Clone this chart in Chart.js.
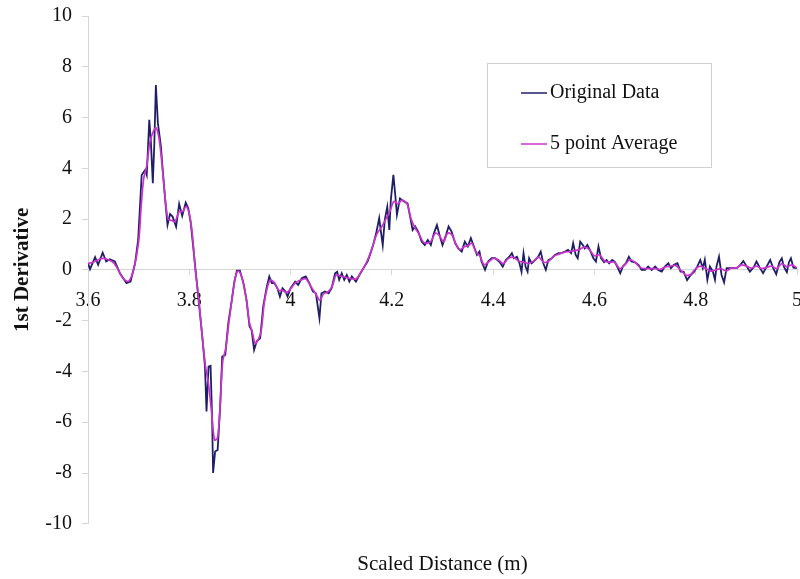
<!DOCTYPE html>
<html>
<head>
<meta charset="utf-8">
<script src="https://cdn.jsdelivr.net/npm/chart.js@4.4.0/dist/chart.umd.min.js"></script>
<style>
  html, body { margin: 0; padding: 0; background: #fff; }
  #wrap { width: 800px; height: 579px; }
</style>
</head>
<body>
<div id="wrap"><canvas id="deriv-chart"></canvas></div>
<script>
// measured profile: distance (m) and first derivative
const distOriginal = [
  3.600, 3.604, 3.614, 3.620, 3.629, 3.636, 3.643, 3.653, 3.663, 3.676,
  3.684, 3.693, 3.699, 3.706, 3.713, 3.716, 3.721, 3.724, 3.728, 3.731,
  3.734, 3.738, 3.744, 3.747, 3.753, 3.757, 3.762, 3.767, 3.774, 3.780,
  3.786, 3.793, 3.798, 3.803, 3.809, 3.817, 3.825, 3.831, 3.834, 3.838,
  3.842, 3.845, 3.847, 3.851, 3.856, 3.861, 3.865, 3.871, 3.877, 3.884,
  3.889, 3.894, 3.900, 3.907, 3.913, 3.919, 3.923, 3.928, 3.933, 3.940,
  3.946, 3.953, 3.958, 3.963, 3.968, 3.974, 3.979, 3.984, 3.990, 3.994,
  4.000, 4.009, 4.015, 4.022, 4.030, 4.037, 4.044, 4.050, 4.057, 4.061,
  4.068, 4.075, 4.081, 4.088, 4.092, 4.096, 4.101, 4.106, 4.111, 4.116,
  4.121, 4.129, 4.136, 4.144, 4.152, 4.158, 4.164, 4.169, 4.175, 4.178,
  4.182, 4.186, 4.191, 4.195, 4.198, 4.203, 4.207, 4.210, 4.216, 4.224,
  4.231, 4.236, 4.241, 4.246, 4.252, 4.259, 4.265, 4.271, 4.277, 4.283,
  4.289, 4.295, 4.300, 4.307, 4.312, 4.318, 4.325, 4.331, 4.338, 4.344,
  4.350, 4.356, 4.361, 4.368, 4.373, 4.377, 4.384, 4.390, 4.397, 4.404,
  4.412, 4.419, 4.425, 4.432, 4.437, 4.441, 4.447, 4.452, 4.456, 4.460,
  4.464, 4.468, 4.471, 4.476, 4.483, 4.489, 4.494, 4.499, 4.504, 4.509,
  4.516, 4.522, 4.529, 4.535, 4.542, 4.548, 4.554, 4.558, 4.563, 4.567,
  4.572, 4.577, 4.581, 4.586, 4.591, 4.598, 4.603, 4.608, 4.613, 4.619,
  4.624, 4.629, 4.635, 4.640, 4.645, 4.651, 4.656, 4.662, 4.668, 4.673,
  4.680, 4.687, 4.693, 4.700, 4.706, 4.713, 4.720, 4.726, 4.733, 4.739,
  4.746, 4.751, 4.757, 4.764, 4.770, 4.776, 4.783, 4.790, 4.797, 4.803,
  4.809, 4.814, 4.818, 4.823, 4.828, 4.834, 4.838, 4.841, 4.846, 4.851,
  4.856, 4.861, 4.871, 4.881, 4.887, 4.894, 4.901, 4.907, 4.914, 4.920,
  4.927, 4.933, 4.940, 4.947, 4.953, 4.959, 4.965, 4.970, 4.974, 4.980,
  4.984, 4.988, 4.993, 5.000
];
const derivOriginal = [
  0.26, 0.03, 0.50, 0.20, 0.68, 0.33, 0.42, 0.33, -0.13, -0.52,
  -0.46, 0.26, 1.18, 3.74, 3.94, 3.74, 5.91, 5.12, 3.41, 4.99,
  7.28, 5.78, 4.86, 4.07, 2.63, 1.77, 2.20, 2.10, 1.70, 2.60,
  2.13, 2.65, 2.43, 1.84, 0.66, -0.92, -2.49, -3.81, -5.58, -3.81,
  -3.78, -5.77, -8.00, -7.15, -7.09, -5.38, -3.41, -3.35, -2.10, -1.18,
  -0.46, -0.03, -0.03, -0.52, -1.18, -2.23, -2.36, -3.15, -2.82, -2.69,
  -1.44, -0.66, -0.26, -0.52, -0.52, -0.72, -1.05, -0.72, -0.85, -1.05,
  -0.72, -0.46, -0.59, -0.33, -0.26, -0.52, -0.85, -0.92, -1.90, -0.92,
  -0.85, -0.92, -0.72, -0.13, -0.07, -0.39, -0.13, -0.39, -0.20, -0.46,
  -0.26, -0.46, -0.20, 0.07, 0.33, 0.66, 1.05, 1.44, 2.04, 1.57,
  0.98, 1.97, 2.49, 1.57, 2.76, 3.74, 2.89, 2.17, 2.82, 2.69,
  2.62, 2.10, 1.57, 1.71, 1.51, 1.11, 0.98, 1.18, 0.98, 1.44,
  1.77, 1.31, 0.98, 1.38, 1.71, 1.51, 1.05, 0.85, 0.72, 1.11,
  0.92, 1.25, 0.98, 0.59, 0.72, 0.33, 0.00, 0.33, 0.46, 0.46,
  0.33, 0.13, 0.39, 0.52, 0.66, 0.46, 0.52, 0.26, -0.07, 0.66,
  0.13, -0.07, 0.46, 0.26, 0.39, 0.52, 0.72, 0.26, 0.00, 0.39,
  0.46, 0.59, 0.66, 0.66, 0.72, 0.79, 0.66, 1.05, 0.59, 0.46,
  1.11, 0.98, 0.85, 0.98, 0.79, 0.46, 0.33, 0.92, 0.46, 0.30,
  0.39, 0.26, 0.39, 0.33, 0.13, -0.13, 0.13, 0.26, 0.52, 0.33,
  0.30, 0.20, 0.00, 0.00, 0.13, 0.00, 0.13, 0.00, -0.07, 0.13,
  0.26, 0.07, 0.20, 0.26, -0.07, -0.07, -0.40, -0.20, -0.07, 0.13,
  0.39, 0.07, 0.40, -0.39, 0.13, -0.07, -0.39, 0.13, 0.52, -0.20,
  -0.49, 0.07, 0.07, 0.07, 0.17, 0.35, 0.13, -0.07, 0.09, 0.33,
  0.07, -0.13, 0.13, 0.39, 0.07, -0.17, 0.30, 0.46, 0.13, -0.09,
  0.30, 0.46, 0.09, 0.07
];

// smoothed curve (5 point running average)
const distAverage = [
  3.600, 3.610, 3.620, 3.630, 3.640, 3.650, 3.660, 3.670, 3.680, 3.690,
  3.700, 3.705, 3.710, 3.716, 3.722, 3.728, 3.734, 3.740, 3.746, 3.752,
  3.758, 3.765, 3.772, 3.780, 3.787, 3.794, 3.800, 3.806, 3.812, 3.818,
  3.825, 3.832, 3.838, 3.844, 3.850, 3.856, 3.861, 3.866, 3.872, 3.878,
  3.884, 3.890, 3.895, 3.900, 3.907, 3.913, 3.919, 3.925, 3.930, 3.936,
  3.942, 3.948, 3.954, 3.960, 3.968, 3.976, 3.984, 3.992, 4.000, 4.010,
  4.020, 4.030, 4.040, 4.050, 4.058, 4.065, 4.075, 4.083, 4.090, 4.100,
  4.110, 4.120, 4.130, 4.140, 4.150, 4.160, 4.170, 4.180, 4.188, 4.196,
  4.204, 4.212, 4.220, 4.230, 4.238, 4.246, 4.254, 4.262, 4.270, 4.278,
  4.286, 4.294, 4.302, 4.310, 4.318, 4.326, 4.334, 4.342, 4.350, 4.358,
  4.366, 4.374, 4.382, 4.390, 4.400, 4.410, 4.420, 4.430, 4.440, 4.450,
  4.460, 4.470, 4.480, 4.490, 4.500, 4.510, 4.520, 4.530, 4.540, 4.550,
  4.560, 4.570, 4.580, 4.590, 4.600, 4.610, 4.620, 4.630, 4.640, 4.650,
  4.660, 4.670, 4.680, 4.690, 4.700, 4.710, 4.720, 4.730, 4.740, 4.750,
  4.760, 4.770, 4.780, 4.790, 4.800, 4.810, 4.820, 4.830, 4.840, 4.850,
  4.860, 4.870, 4.880, 4.890, 4.900, 4.910, 4.920, 4.930, 4.940, 4.950,
  4.960, 4.970, 4.980, 4.990, 5.000
];
const derivAverage = [
  0.25, 0.30, 0.40, 0.45, 0.40, 0.30, 0.00, -0.35, -0.45, 0.00,
  1.10, 2.50, 3.60, 4.10, 5.00, 5.40, 5.60, 5.20, 4.20, 2.90,
  2.00, 1.95, 1.90, 2.30, 2.30, 2.50, 2.20, 1.40, 0.00, -1.00,
  -2.50, -3.80, -4.50, -5.60, -6.70, -6.60, -5.30, -3.60, -3.10, -2.10,
  -1.20, -0.40, -0.05, -0.10, -0.55, -1.20, -2.10, -2.50, -2.90, -2.75,
  -2.40, -1.30, -0.70, -0.40, -0.50, -0.80, -0.80, -0.90, -0.75, -0.50,
  -0.40, -0.35, -0.65, -0.95, -1.20, -0.95, -0.85, -0.60, -0.20, -0.25,
  -0.30, -0.35, -0.35, -0.05, 0.30, 0.80, 1.40, 1.70, 2.00, 2.30,
  2.70, 2.60, 2.75, 2.60, 2.00, 1.65, 1.40, 1.10, 1.05, 1.15,
  1.45, 1.35, 1.10, 1.45, 1.40, 1.05, 0.80, 0.90, 0.95, 1.05,
  0.70, 0.55, 0.20, 0.30, 0.45, 0.40, 0.25, 0.45, 0.50, 0.35,
  0.30, 0.25, 0.35, 0.50, 0.30, 0.35, 0.55, 0.62, 0.70, 0.72,
  0.75, 0.80, 0.90, 0.80, 0.55, 0.60, 0.35, 0.30, 0.30, 0.05,
  0.20, 0.40, 0.30, 0.10, 0.05, 0.05, 0.05, 0.02, 0.12, 0.15,
  0.18, 0.00, -0.20, -0.18, 0.05, 0.15, 0.05, -0.05, 0.00, 0.05,
  -0.05, 0.07, 0.07, 0.20, 0.15, 0.07, 0.15, 0.05, 0.10, 0.15,
  0.05, 0.25, 0.12, 0.20, 0.07
];

const seriesNames = ['Original Data', '5 point Average'];
const seriesColors = ['#1e1f66', '#cc33cc'];

const serif = "'Liberation Serif', 'Times New Roman', serif";
const axisGrey = '#d6d6d6';

function toPoints(xs, ys) {
  return xs.map((x, i) => ({ x: x, y: ys[i] }));
}

// legend drawn inside the plot area, upper right
const legendBox = {
  id: 'legendBox',
  afterDraw(chart) {
    const ctx = chart.ctx;
    const left = 487, top = 63, w = 224, h = 104;
    ctx.save();
    ctx.fillStyle = '#ffffff';
    ctx.fillRect(left, top, w, h);
    ctx.strokeStyle = '#d0d0d0';
    ctx.lineWidth = 1;
    ctx.strokeRect(left + 0.5, top + 0.5, w, h);
    ctx.font = '20px ' + serif;
    ctx.textBaseline = 'middle';
    ctx.textAlign = 'left';
    chart.data.datasets.forEach((ds, i) => {
      const y = top + 30 + i * 51;
      ctx.strokeStyle = ds.borderColor;
      ctx.lineWidth = 1.5;
      ctx.beginPath();
      ctx.moveTo(521, y);
      ctx.lineTo(547, y);
      ctx.stroke();
      ctx.fillStyle = '#111';
      ctx.fillText(ds.label, 550, y);
    });
    ctx.restore();
  }
};

const ctx = document.getElementById('deriv-chart').getContext('2d');

new Chart(ctx, {
  type: 'line',
  data: {
    datasets: [
      {
        label: seriesNames[0],
        data: toPoints(distOriginal, derivOriginal),
        borderColor: seriesColors[0],
        borderWidth: 1.8,
        pointRadius: 0,
        tension: 0,
        order: 2
      },
      {
        label: seriesNames[1],
        data: toPoints(distAverage, derivAverage),
        borderColor: seriesColors[1],
        borderWidth: 1.7,
        pointRadius: 0,
        tension: 0.3,
        order: 1
      }
    ]
  },
  options: {
    responsive: true,
    maintainAspectRatio: false,
    animation: false,
    layout: { padding: { left: 8, top: 16, right: 3, bottom: 0 } },
    plugins: {
      legend: { display: false },
      tooltip: { enabled: false },
      title: {
        display: true,
        position: 'bottom',
        fullSize: false,
        text: 'Scaled Distance (m)',
        color: '#111',
        font: { family: serif, size: 21, weight: 'normal' },
        padding: { top: 28, bottom: 2 }
      }
    },
    scales: {
      x: {
        type: 'linear',
        position: { y: 0 },
        min: 3.6,
        max: 5,
        border: { color: axisGrey, width: 1 },
        grid: { drawOnChartArea: false, color: axisGrey, tickLength: 5 },
        ticks: {
          stepSize: 0.2,
          padding: 14,
          color: '#111',
          font: { family: serif, size: 20 },
          maxRotation: 0,
          callback: v => String(+v.toFixed(1))
        },
        afterFit: s => { s.paddingLeft = 0; s.paddingRight = 0; }
      },
      y: {
        min: -10,
        max: 10,
        border: { color: axisGrey, width: 1 },
        grid: { drawOnChartArea: false, color: axisGrey, tickLength: 6 },
        ticks: {
          stepSize: 2,
          padding: 10,
          color: '#111',
          font: { family: serif, size: 20 }
        },
        title: {
          display: true,
          text: '1st Derivative',
          color: '#111',
          font: { family: serif, size: 21, weight: 'bold' },
          padding: { top: 2, bottom: 10 }
        },
        afterFit: s => { s.width = 80; s.paddingTop = 0; s.paddingBottom = 0; }
      }
    }
  },
  plugins: [legendBox]
});
</script>
</body>
</html>
